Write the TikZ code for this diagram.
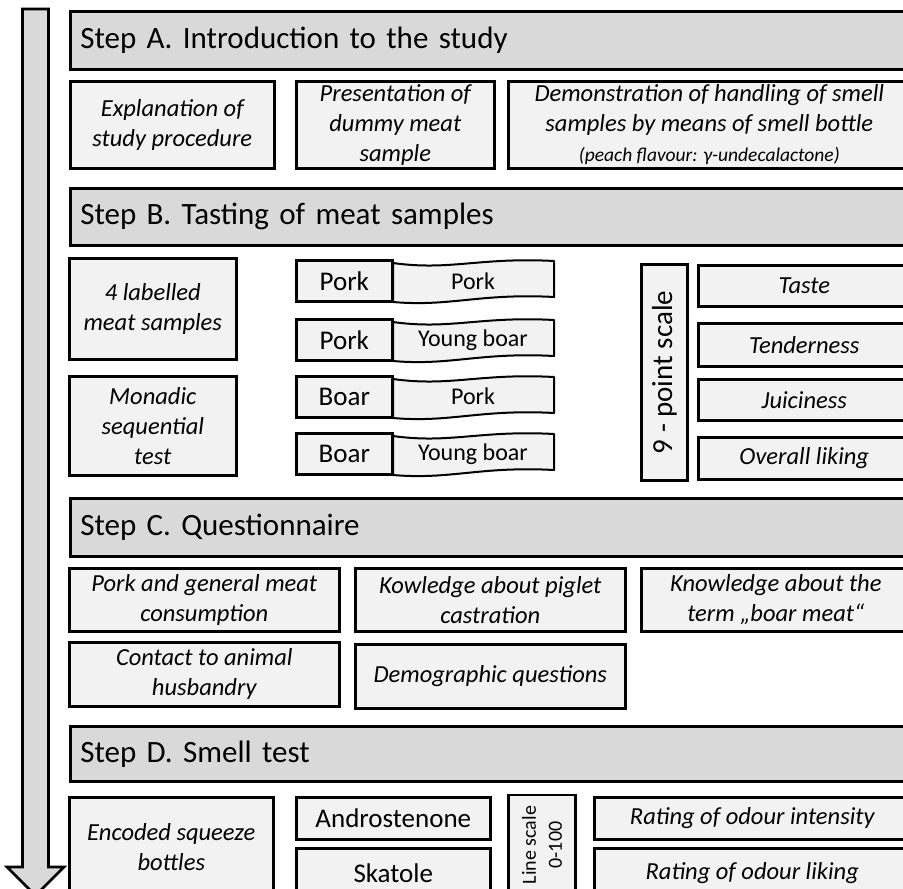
\documentclass[tikz,border=0pt]{standalone}
\usepackage{fontspec}
\setmainfont{Carlito}
\usepackage{xcolor}
\usepackage{tikz}
\definecolor{headgray}{HTML}{D9D9D9}
\definecolor{boxgray}{HTML}{F2F2F2}

\begin{document}
\begin{tikzpicture}[x=1pt, y=-1pt,
    stephead/.style={draw, line width=2.6pt, fill=headgray, anchor=north west, text width=820pt, inner xsep=10pt, align=left, font=\fontsize{31}{36}\selectfont},
    itembox/.style={draw, line width=2.6pt, fill=boxgray, anchor=north west, align=center, inner sep=0pt, font=\itshape\fontsize{24.5}{30}\selectfont},
    namebox/.style={itembox, font=\fontsize{27}{31}\selectfont},
    ribbon/.style={draw, line width=2pt, fill=boxgray, line join=round},
    ribbontext/.style={font=\fontsize{24}{28}\selectfont}]
    \useasboundingbox (0,0) rectangle (903,889);
    \clip (0,0) rectangle (903,889);

    % Time arrow
    \draw[line width=2.6pt, fill=headgray, line join=miter] (22.5,9) -- (48.5,9) -- (48.5,867) -- (64,867) -- (35.5,895.5) -- (7,867) -- (22.5,867) -- cycle;

    % Step A
    \node[stephead, minimum height=58pt] (stepA) at (69,10) {Step A. Introduction to the study};
    \node[itembox, minimum width=204pt, minimum height=87pt] (explain) at (69,80) {Explanation of\\study procedure};
    \node[itembox, minimum width=198pt, minimum height=87pt] (dummy) at (295,80) {Presentation of\\dummy meat\\sample};
    \node[itembox, minimum width=402pt, minimum height=87pt] (demo) at (507,80) {Demonstration of handling of smell\\samples by means of smell bottle\\{\fontsize{19.5}{22}\selectfont (peach flavour: γ-undecalactone)}};

    % Step B
    \node[stephead, minimum height=57pt] (stepB) at (69,187) {Step B. Tasting of meat samples};
    \node[itembox, minimum width=167pt, minimum height=101pt] (labelled) at (68,257) {4 labelled\\meat samples};
    \node[itembox, minimum width=167pt, minimum height=99pt] (monadic) at (68,375) {Monadic\\sequential\\test};

    % Samples with labels
    \node[namebox, minimum width=96pt, minimum height=41pt] (pork1) at (295,259) {Pork};
    \draw[ribbon, shift={(0,259)}] (393,4) .. controls (450,12) and (480,-2) .. (554,2) -- (554,38) .. controls (480,34) and (450,48) .. (393,43) -- cycle;
    \node[ribbontext] (tag1) at (473,281) {Pork};
    \node[namebox, minimum width=96pt, minimum height=41pt] (pork2) at (295,318) {Pork};
    \draw[ribbon, shift={(0,318)}] (393,4) .. controls (450,12) and (480,-2) .. (554,2) -- (554,38) .. controls (480,34) and (450,48) .. (393,43) -- cycle;
    \node[ribbontext] (tag2) at (473,340) {Young boar};
    \node[namebox, minimum width=96pt, minimum height=41pt] (boar1) at (295,375) {Boar};
    \draw[ribbon, shift={(0,375)}] (393,4) .. controls (450,12) and (480,-2) .. (554,2) -- (554,38) .. controls (480,34) and (450,48) .. (393,43) -- cycle;
    \node[ribbontext] (tag3) at (473,396) {Pork};
    \node[namebox, minimum width=96pt, minimum height=41pt] (boar2) at (295,432) {Boar};
    \draw[ribbon, shift={(0,432)}] (393,4) .. controls (450,12) and (480,-2) .. (554,2) -- (554,38) .. controls (480,34) and (450,48) .. (393,43) -- cycle;
    \node[ribbontext] (tag4) at (473,454) {Young boar};

    % Rating scale
    \node[namebox, anchor=center, rotate=90, minimum width=216pt, minimum height=46pt, font=\fontsize{29}{32}\selectfont] (ninept) at (664.5,372.5) {9 - point scale};
    \node[itembox, minimum width=212pt, minimum height=41pt] (taste) at (697,264) {Taste};
    \node[itembox, minimum width=212pt, minimum height=43pt] (tender) at (697,322) {Tenderness};
    \node[itembox, minimum width=212pt, minimum height=41pt] (juicy) at (697,378) {Juiciness};
    \node[itembox, minimum width=212pt, minimum height=42pt] (overall) at (697,436) {Overall liking};

    % Step C
    \node[stephead, minimum height=58pt] (stepC) at (69,497) {Step C. Questionnaire};
    \node[itembox, minimum width=270pt, minimum height=63pt] (consume) at (68,567) {Pork and general meat\\consumption};
    \node[itembox, minimum width=270pt, minimum height=63pt] (piglet) at (354,567) {Kowledge about piglet\\castration};
    \node[itembox, minimum width=269pt, minimum height=63pt] (term) at (640,567) {Knowledge about the\\term „boar meat“};
    \node[itembox, minimum width=270pt, minimum height=64pt] (contact) at (68,641) {Contact to animal\\husbandry};
    \node[itembox, minimum width=270pt, minimum height=64pt] (demog) at (354,643) {Demographic questions};

    % Step D
    \node[stephead, minimum height=55pt] (stepD) at (69,725) {Step D. Smell test};
    \node[itembox, minimum width=204pt, minimum height=100pt] (bottles) at (68,796) {Encoded squeeze\\bottles};
    \node[namebox, minimum width=194pt, minimum height=42pt] (andro) at (295,796) {Androstenone};
    \node[namebox, minimum width=194pt, minimum height=49pt] (skatole) at (295,847) {Skatole};
    \node[namebox, anchor=center, rotate=90, minimum width=100pt, minimum height=67pt, font=\fontsize{20}{26}\selectfont] (linescale) at (542,845) {Line scale\\0-100};
    \node[itembox, minimum width=316pt, minimum height=42pt] (intensity) at (593,796) {Rating of odour intensity};
    \node[itembox, minimum width=316pt, minimum height=49pt] (liking) at (593,847) {Rating of odour liking};
\end{tikzpicture}
\end{document}
